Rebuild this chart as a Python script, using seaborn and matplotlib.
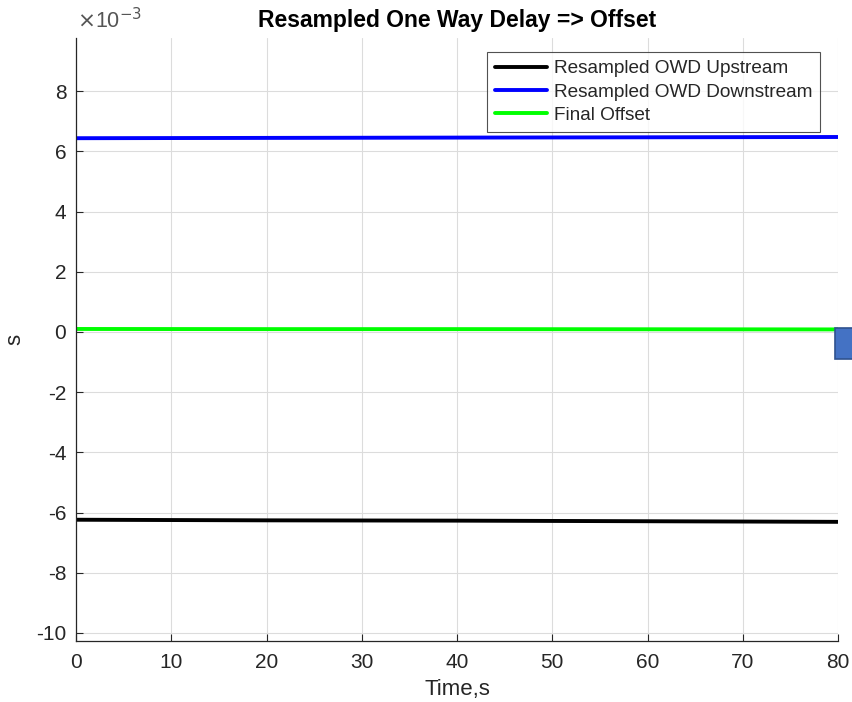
import matplotlib
matplotlib.use("Agg")
import matplotlib.pyplot as plt
import matplotlib.ticker as mticker
from matplotlib.patches import Rectangle
import numpy as np
import pandas as pd
import seaborn as sns

# Resampled one-way delays (seconds) over time
time_s = [0, 20, 40, 60, 80]
owd_upstream = [-6.24e-3, -6.26e-3, -6.27e-3, -6.29e-3, -6.31e-3]
owd_downstream = [6.44e-3, 6.45e-3, 6.46e-3, 6.47e-3, 6.48e-3]
final_offset = [0.10e-3, 0.095e-3, 0.095e-3, 0.09e-3, 0.085e-3]

series_names = ["Resampled OWD Upstream", "Resampled OWD Downstream", "Final Offset"]
series_colors = ["#000000", "#0000ff", "#00ff00"]

x_ticks = [0, 10, 20, 30, 40, 50, 60, 70, 80]
y_ticks = [-10e-3, -8e-3, -6e-3, -4e-3, -2e-3, 0, 2e-3, 4e-3, 6e-3, 8e-3]

sns.set_theme(style="white")
plt.rcParams["font.family"] = ["Liberation Sans", "DejaVu Sans"]
plt.rcParams["axes.unicode_minus"] = False

frames = []
for name, vals in zip(series_names, [owd_upstream, owd_downstream, final_offset]):
    frames.append(pd.DataFrame({"Time": time_s, "Value": vals, "Series": name}))
df = pd.concat(frames, ignore_index=True)

fig = plt.figure(figsize=(8.52, 7.02), dpi=100)
ax = fig.add_axes([76 / 852, 61 / 702, (838 - 76) / 852, (641 - 38) / 702])

sns.lineplot(data=df, x="Time", y="Value", hue="Series", hue_order=series_names,
             palette=series_colors, linewidth=2.8, ax=ax, legend=True)

ax.set_xlim(0, 80)
ax.set_ylim(-10.27e-3, 9.77e-3)
ax.set_xticks(x_ticks)
ax.set_yticks(y_ticks)
ax.yaxis.set_major_formatter(mticker.FuncFormatter(lambda v, p: f"{v * 1e3:.0f}"))

tick_col = "#262626"
ax.grid(True, color="#dcdcdc", linewidth=0.8)
ax.set_axisbelow(True)
for side in ["top", "right"]:
    ax.spines[side].set_visible(False)
for side in ["left", "bottom"]:
    ax.spines[side].set_color(tick_col)
    ax.spines[side].set_linewidth(0.9)
ax.tick_params(axis="both", direction="in", length=5, width=0.8, colors=tick_col,
               labelsize=15, left=True, bottom=True)
ax.tick_params(axis="x", pad=9)
ax.tick_params(axis="y", pad=7)

ax.set_xlabel("Time,s", fontsize=16, color=tick_col, labelpad=5)
ax.set_ylabel("s", fontsize=16, color=tick_col, labelpad=8)
ax.set_title("Resampled One Way Delay => Offset", fontsize=16.5, fontweight="bold",
             color="#000000", pad=8)

fig.text(77 / 852, 1 - 21 / 702, r"$\times$10$^{-3}$", fontsize=15.5, color="#555555",
         va="center", ha="left")

leg = ax.legend(loc="upper right", bbox_to_anchor=((820 - 76) / (838 - 76), 1 - 14 / 603),
                frameon=True, fancybox=False, fontsize=13.7, handlelength=2.75,
                borderpad=0.42, labelspacing=0.32, handletextpad=0.35, borderaxespad=0)
leg.get_frame().set_edgecolor("#262626")
leg.get_frame().set_linewidth(0.8)
for line in leg.get_lines():
    line.set_linewidth(2.8)

# small selection box at the right edge
fig.patches.append(Rectangle((835 / 852, 1 - 359 / 702), 20 / 852, 31 / 702,
                             transform=fig.transFigure, facecolor="#4472c4",
                             edgecolor="#2f528f", linewidth=1.2))

fig.savefig("out.png", dpi=100)
